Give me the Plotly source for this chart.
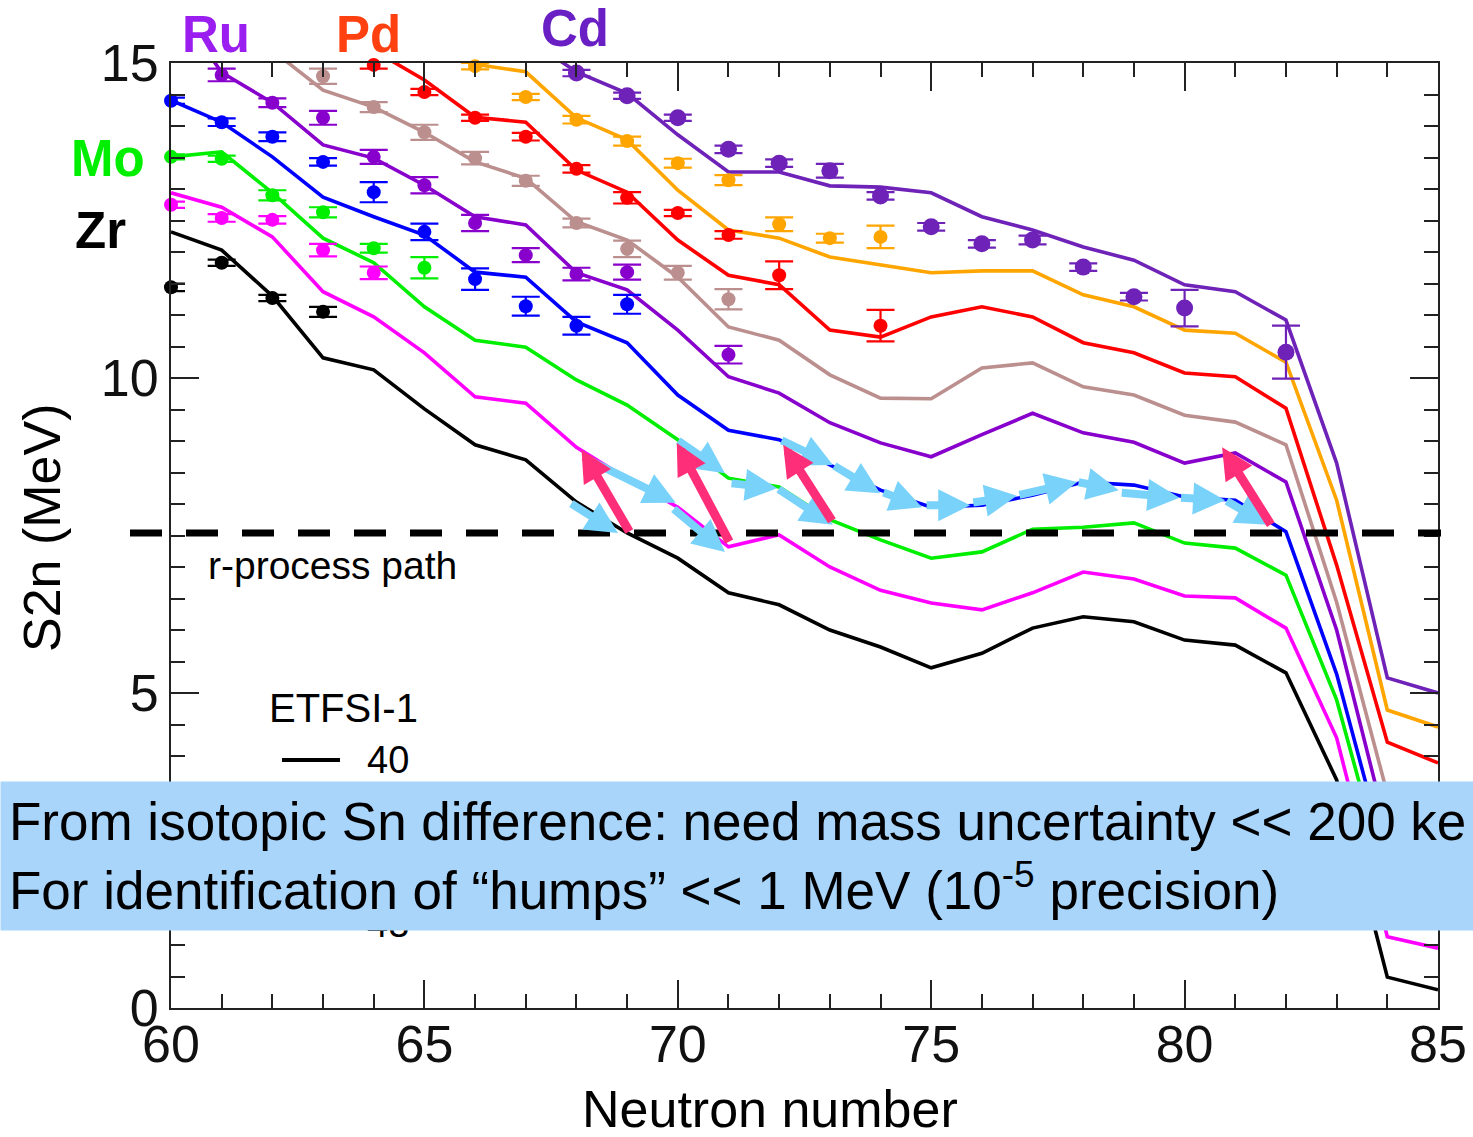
import plotly.graph_objects as go

# ---------------- data ----------------
N_MODEL = list(range(60, 86))

# ETFSI-1 two-neutron separation energies (MeV), one list per element
S2N_ZR_MODEL = [12.32, 12.03, 11.30, 10.32, 10.13, 9.51, 8.94, 8.70, 8.03, 7.54, 7.14, 6.59, 6.40,
                6.00, 5.73, 5.40, 5.63, 6.03, 6.21, 6.13, 5.84, 5.76, 5.32, 3.62, 0.49, 0.29]
S2N_NB_MODEL = [12.94, 12.71, 12.24, 11.37, 10.97, 10.40, 9.70, 9.60, 8.90, 8.40, 7.95, 7.32, 7.51,
                7.00, 6.63, 6.43, 6.32, 6.59, 6.92, 6.81, 6.54, 6.51, 6.03, 4.29, 1.13, 0.95]
S2N_MO_MODEL = [13.51, 13.59, 12.94, 12.22, 11.83, 11.13, 10.60, 10.49, 9.97, 9.57, 9.02, 8.41, 8.27,
                7.75, 7.43, 7.14, 7.24, 7.60, 7.63, 7.70, 7.38, 7.30, 6.87, 4.89, 1.95, 1.70]
S2N_TC_MODEL = [14.41, 14.06, 13.51, 12.87, 12.56, 12.27, 11.68, 11.60, 10.89, 10.56, 9.73, 9.17, 9.02,
                8.62, 8.22, 7.95, 7.98, 8.14, 8.35, 8.30, 8.11, 8.06, 7.56, 5.30, 2.30, 2.10]
S2N_RU_MODEL = [16.00, 14.85, 14.37, 13.70, 13.49, 13.06, 12.56, 12.43, 11.67, 11.40, 10.76, 10.02, 9.76,
                9.29, 8.97, 8.75, 9.10, 9.44, 9.13, 8.98, 8.65, 8.81, 8.35, 6.00, 2.80, 2.60]
S2N_RH_MODEL = [None, 15.80, 15.20, 14.57, 14.30, 13.90, 13.43, 13.17, 12.48, 12.19, 11.60, 10.81, 10.60,
                10.05, 9.68, 9.67, 10.16, 10.24, 9.86, 9.73, 9.41, 9.30, 8.94, 6.44, 3.40, 3.20]
S2N_PD_MODEL = [None, None, None, 15.70, 15.20, 14.73, 14.14, 14.06, 13.30, 12.95, 12.19, 11.63, 11.48,
                10.76, 10.65, 10.97, 11.13, 10.97, 10.56, 10.40, 10.08, 10.02, 9.52, 7.03, 4.22, 3.89]
S2N_AG_MODEL = [None, None, None, None, None, 15.30, 14.98, 14.86, 14.13, 13.78, 12.98, 12.35, 12.22,
                11.92, 11.79, 11.67, 11.70, 11.70, 11.32, 11.13, 10.76, 10.71, 10.25, 8.06, 4.73, 4.46]
S2N_CD_MODEL = [None, None, None, None, None, None, None, 15.40, 14.86, 14.52, 13.86, 13.27, 13.27,
                13.05, 13.03, 12.94, 12.56, 12.35, 12.08, 11.87, 11.48, 11.37, 10.92, 8.65, 5.24, 5.00]

# Experimental values with uncertainties
N_ZR_EXP = [60, 61, 62, 63]
S2N_ZR_EXP = [11.44, 11.83, 11.27, 11.05]
ERR_ZR_EXP = [0.06, 0.05, 0.05, 0.08]

N_NB_EXP = [60, 61, 62, 63, 64]
S2N_NB_EXP = [12.75, 12.54, 12.51, 12.03, 11.67]
ERR_NB_EXP = [0.05, 0.06, 0.06, 0.10, 0.10]

N_MO_EXP = [60, 61, 62, 63, 64, 65]
S2N_MO_EXP = [13.51, 13.48, 12.90, 12.63, 12.06, 11.75]
ERR_MO_EXP = [0.04, 0.05, 0.08, 0.08, 0.07, 0.17]

N_TC_EXP = [60, 61, 62, 63, 64, 65, 66, 67, 68, 69]
S2N_TC_EXP = [14.40, 14.06, 13.83, 13.43, 12.95, 12.32, 11.57, 11.14, 10.83, 11.17]
ERR_TC_EXP = [0.05, 0.06, 0.07, 0.06, 0.16, 0.13, 0.17, 0.15, 0.14, 0.15]

N_RU_EXP = [61, 62, 63, 64, 65, 66, 67, 68, 69, 71]
S2N_RU_EXP = [14.81, 14.37, 14.13, 13.51, 13.06, 12.46, 11.95, 11.65, 11.68, 10.37]
ERR_RU_EXP = [0.10, 0.07, 0.11, 0.11, 0.13, 0.13, 0.11, 0.10, 0.12, 0.14]

N_RH_EXP = [63, 64, 65, 66, 67, 68, 69, 70, 71]
S2N_RH_EXP = [14.79, 14.30, 13.90, 13.49, 13.13, 12.46, 12.05, 11.67, 11.25]
ERR_RH_EXP = [0.12, 0.08, 0.12, 0.10, 0.08, 0.07, 0.13, 0.11, 0.16]

N_PD_EXP = [64, 65, 66, 67, 68, 69, 70, 71, 72, 74]
S2N_PD_EXP = [14.97, 14.54, 14.13, 13.83, 13.32, 12.86, 12.62, 12.27, 11.63, 10.83]
ERR_PD_EXP = [0.06, 0.05, 0.05, 0.06, 0.06, 0.09, 0.05, 0.06, 0.22, 0.25]

N_AG_EXP = [66, 67, 68, 69, 70, 71, 72, 73, 74]
S2N_AG_EXP = [14.95, 14.46, 14.10, 13.76, 13.41, 13.14, 12.44, 12.22, 12.24]
ERR_AG_EXP = [0.05, 0.05, 0.06, 0.07, 0.07, 0.08, 0.11, 0.07, 0.18]

N_CD_EXP = [68, 69, 70, 71, 72, 73, 74, 75, 76, 77, 78, 79, 80, 82]
S2N_CD_EXP = [14.84, 14.48, 14.13, 13.63, 13.41, 13.29, 12.89, 12.40, 12.13, 12.19, 11.76, 11.29, 11.11, 10.41]
ERR_CD_EXP = [0.05, 0.05, 0.05, 0.06, 0.06, 0.11, 0.06, 0.06, 0.06, 0.07, 0.06, 0.06, 0.29, 0.42]

R_PROCESS_S2N = 7.54   # MeV, r-process path level

# r-process flow arrows: (tail N, tail S2n, head N, head S2n)
CYAN_ARROWS = [
    (67.87, 8.02, 68.82, 7.54), (68.24, 8.70, 69.96, 8.02), (69.89, 7.94, 70.93, 7.24),
    (69.98, 9.02, 70.93, 8.49), (71.03, 8.33, 71.96, 8.25), (71.96, 8.25, 73.06, 7.67),
    (72.02, 9.02, 73.06, 8.62), (73.06, 8.62, 73.99, 8.17), (74.03, 8.19, 74.82, 7.95),
    (74.88, 7.98, 75.77, 7.98), (75.80, 8.02, 76.69, 8.13), (76.71, 8.14, 77.88, 8.35),
    (77.88, 8.35, 78.70, 8.22), (78.73, 8.18, 79.90, 8.10), (79.90, 8.10, 80.80, 8.06),
    (80.80, 8.06, 81.65, 7.67),
]
PINK_ARROWS = [
    (69.06, 7.54, 68.10, 8.86), (71.03, 7.38, 69.98, 8.97),
    (73.06, 7.71, 72.08, 8.94), (81.72, 7.65, 80.74, 8.90),
]

LEGEND_TITLE = "ETFSI-1"
LEGEND_Z = ["40", "42", "44", "46", "48"]
BANNER_LINES = ["From isotopic Sn difference: need mass uncertainty &lt;&lt; 200 keV",
                "For identification of “humps” &lt;&lt; 1 MeV (10<sup>-5</sup> precision)"]

# ---------------- styling ----------------
FONT = "Arial, Liberation Sans, Helvetica, sans-serif"
C_ZR, C_NB, C_MO, C_TC = "#000000", "#FF00FF", "#00EE00", "#0000FF"
C_RU, C_RH, C_PD, C_AG, C_CD = "#8800CC", "#BC8F8F", "#FF0000", "#FFA500", "#6E22B8"

FIG_W, FIG_H = 1473, 1137
ML, MR, MT, MB = 171, 35, 63, 129
PW, PH = FIG_W - ML - MR, FIG_H - MT - MB


def px_x(px):
    return (px - ML) / PW


def px_y(py):
    return (FIG_H - MB - py) / PH


fig = go.Figure()

model = [(S2N_ZR_MODEL, C_ZR), (S2N_NB_MODEL, C_NB), (S2N_MO_MODEL, C_MO), (S2N_TC_MODEL, C_TC),
         (S2N_RU_MODEL, C_RU), (S2N_RH_MODEL, C_RH), (S2N_PD_MODEL, C_PD), (S2N_AG_MODEL, C_AG),
         (S2N_CD_MODEL, C_CD)]
for vals, col in model:
    fig.add_trace(go.Scatter(x=N_MODEL, y=vals, mode="lines", line=dict(color=col, width=3.6),
                             showlegend=False, hoverinfo="skip"))

exp = [(N_ZR_EXP, S2N_ZR_EXP, ERR_ZR_EXP, C_ZR, 14), (N_NB_EXP, S2N_NB_EXP, ERR_NB_EXP, C_NB, 14),
       (N_MO_EXP, S2N_MO_EXP, ERR_MO_EXP, C_MO, 14), (N_TC_EXP, S2N_TC_EXP, ERR_TC_EXP, C_TC, 14),
       (N_RU_EXP, S2N_RU_EXP, ERR_RU_EXP, C_RU, 14), (N_RH_EXP, S2N_RH_EXP, ERR_RH_EXP, C_RH, 14),
       (N_PD_EXP, S2N_PD_EXP, ERR_PD_EXP, C_PD, 14), (N_AG_EXP, S2N_AG_EXP, ERR_AG_EXP, C_AG, 14),
       (N_CD_EXP, S2N_CD_EXP, ERR_CD_EXP, C_CD, 17)]
for xs, ys, es, col, sz in exp:
    fig.add_trace(go.Scatter(x=xs, y=ys, mode="markers", cliponaxis=False,
                             marker=dict(color=col, size=sz, line=dict(width=0)),
                             error_y=dict(type="data", array=es, color=col, thickness=2.2, width=14),
                             showlegend=False, hoverinfo="skip"))

shapes = [dict(type="line", xref="paper", yref="y", x0=px_x(130), x1=px_x(1441),
               y0=R_PROCESS_S2N, y1=R_PROCESS_S2N, layer="above",
               line=dict(color="black", width=7, dash="32px,24px"))]

annotations = []
for tx, ty, hx, hy in CYAN_ARROWS:
    annotations.append(dict(x=hx, y=hy, ax=tx, ay=ty, xref="x", yref="y", axref="x", ayref="y",
                            text="", showarrow=True, arrowhead=2, arrowsize=0.8, arrowwidth=8,
                            arrowcolor="#79D2FA", standoff=0, startstandoff=0))
for tx, ty, hx, hy in PINK_ARROWS:
    annotations.append(dict(x=hx, y=hy, ax=tx, ay=ty, xref="x", yref="y", axref="x", ayref="y",
                            text="", showarrow=True, arrowhead=2, arrowsize=0.7, arrowwidth=9,
                            arrowcolor="#FF2E78", standoff=0, startstandoff=0))

# element labels
for txt, col, cx, cy in [("Ru", "#9B1EF0", 216, 35), ("Pd", "#FF4010", 368, 35),
                         ("Cd", "#6A1FC4", 575, 28), ("Mo", "#00EE00", 108, 158), ("Zr", "#000000", 100, 230)]:
    annotations.append(dict(xref="paper", yref="paper", x=px_x(cx), y=px_y(cy), text=f"<b>{txt}</b>",
                            showarrow=False, xanchor="center", yanchor="middle",
                            font=dict(family=FONT, size=51, color=col)))

annotations.append(dict(xref="paper", yref="paper", x=px_x(332), y=px_y(565), text="r-process path",
                        showarrow=False, xanchor="center", yanchor="middle",
                        font=dict(family=FONT, size=39, color="black")))
annotations.append(dict(xref="paper", yref="paper", x=px_x(42), y=px_y(528), text="S2n (MeV)",
                        textangle=-90, showarrow=False, xanchor="center", yanchor="middle",
                        font=dict(family=FONT, size=52, color="black")))
annotations.append(dict(xref="paper", yref="paper", x=px_x(770), y=px_y(1109), text="Neutron number",
                        showarrow=False, xanchor="center", yanchor="middle",
                        font=dict(family=FONT, size=52, color="black")))

# legend (partly hidden behind the banner)
annotations.append(dict(xref="paper", yref="paper", x=px_x(343), y=px_y(708), text=LEGEND_TITLE,
                        showarrow=False, xanchor="center", yanchor="middle",
                        font=dict(family=FONT, size=40, color="black")))
leg_cols = [C_ZR, C_MO, C_RU, C_PD, C_CD]
for i, (lab, col) in enumerate(zip(LEGEND_Z, leg_cols)):
    yy = 760 + 41 * i
    shapes.append(dict(type="line", xref="paper", yref="paper", x0=px_x(282), x1=px_x(340),
                       y0=px_y(yy), y1=px_y(yy), layer="above", line=dict(color=col, width=4)))
    annotations.append(dict(xref="paper", yref="paper", x=px_x(388), y=px_y(yy), text=lab,
                            showarrow=False, xanchor="center", yanchor="middle",
                            font=dict(family=FONT, size=38, color="black")))

# banner (drawn last so that it covers the legend)
annotations.append(dict(xref="paper", yref="paper", x=px_x(0), y=px_y(856), xanchor="left", yanchor="middle",
                        width=FIG_W - 16, height=148 - 16, borderpad=8, bgcolor="#A9D5FB",
                        align="left", valign="middle", showarrow=False,
                        text="<br>".join(BANNER_LINES),
                        font=dict(family=FONT, size=53, color="black")))

axis_common = dict(showgrid=False, zeroline=False, showline=True, linewidth=2, linecolor="#222",
                   ticks="inside", ticklen=28, tickwidth=2, tickcolor="#222", mirror="allticks",
                   automargin=False, tickfont=dict(family=FONT, size=52, color="#111"))
fig.update_layout(
    width=FIG_W, height=FIG_H, autosize=False,
    margin=dict(l=ML, r=MR, t=MT, b=MB),
    paper_bgcolor="white", plot_bgcolor="white",
    xaxis=dict(range=[60, 85], tickmode="linear", tick0=60, dtick=5, ticklabelstandoff=-10,
               minor=dict(dtick=1, ticks="inside", ticklen=14, tickwidth=2, tickcolor="#222"),
               **axis_common),
    yaxis=dict(range=[0, 15], tickmode="linear", tick0=0, dtick=5,
               minor=dict(dtick=0.5, ticks="inside", ticklen=14, tickwidth=2, tickcolor="#222"),
               **axis_common),
    shapes=shapes, annotations=annotations,
)

fig.write_html("out.html")
